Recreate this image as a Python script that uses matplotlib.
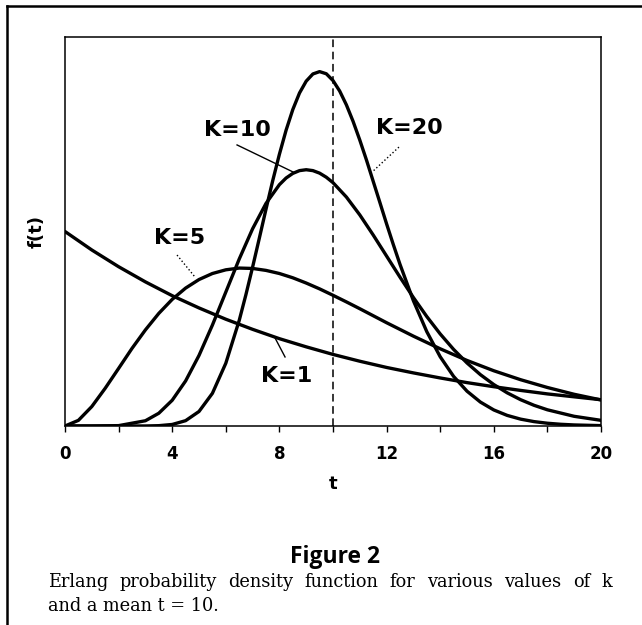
import matplotlib
matplotlib.use("Agg")
import matplotlib.pyplot as plt
from matplotlib.lines import Line2D

# values
t_k1 = [0, 1, 2, 3, 4, 5, 6, 7, 8, 9, 10, 11, 12, 13, 14, 15, 16, 17, 18, 19, 20]
f_k1 = [0.1000, 0.0905, 0.0819, 0.0741, 0.0670, 0.0607, 0.0549, 0.0497, 0.0449, 0.0407,
        0.0368, 0.0333, 0.0301, 0.0273, 0.0247, 0.0223, 0.0202, 0.0183, 0.0165, 0.0150, 0.0135]

t_k5 = [0, 0.5, 1, 1.5, 2, 2.5, 3, 3.5, 4, 4.5, 5, 5.5, 6, 6.5, 7, 7.5, 8, 8.5, 9, 9.5,
        10, 10.5, 11, 11.5, 12, 13, 14, 15, 16, 17, 18, 19, 20]
f_k5 = [0.0, 0.0029, 0.0100, 0.0194, 0.0296, 0.0399, 0.0494, 0.0579, 0.0651, 0.0709,
        0.0753, 0.0784, 0.0803, 0.0812, 0.0810, 0.0800, 0.0784, 0.0762, 0.0735, 0.0705,
        0.0672, 0.0638, 0.0603, 0.0567, 0.0531, 0.0462, 0.0397, 0.0337, 0.0284, 0.0238,
        0.0198, 0.0163, 0.0134]

t_k10 = [0, 1, 2, 3, 3.5, 4, 4.5, 5, 5.5, 6, 6.5, 7, 7.5, 8, 8.25, 8.5, 8.75, 9, 9.25,
         9.5, 9.75, 10, 10.5, 11, 11.5, 12, 12.5, 13, 13.5, 14, 14.5, 15, 15.5, 16, 16.5,
         17, 17.5, 18, 19, 20]
f_k10 = [0.0, 0.0, 0.00019, 0.00270, 0.00656, 0.01323, 0.02316, 0.03627, 0.05187, 0.06884,
         0.08581, 0.10140, 0.11444, 0.12408, 0.1275, 0.12987, 0.1313, 0.13176, 0.1313,
         0.13000, 0.1279, 0.12511, 0.11772, 0.10853, 0.09820, 0.08736, 0.07652, 0.06605,
         0.05627, 0.04734, 0.03938, 0.03241, 0.02640, 0.02131, 0.01705, 0.01353, 0.01065,
         0.00833, 0.00498, 0.00291]

t_k20 = [0, 1, 2, 3, 3.5, 4, 4.5, 5, 5.5, 6, 6.5, 6.75, 7, 7.25, 7.5, 7.75, 8, 8.25, 8.5,
         8.75, 9, 9.25, 9.5, 9.75, 10, 10.25, 10.5, 10.75, 11, 11.25, 11.5, 11.75, 12,
         12.25, 12.5, 13, 13.5, 14, 14.5, 15, 15.5, 16, 16.5, 17, 17.5, 18, 18.5, 19, 20]
f_k20 = [0.0, 0.0, 0.0, 0.00002, 0.00017, 0.00079, 0.00274, 0.00746, 0.01680, 0.03226,
         0.05425, 0.0675, 0.08169, 0.0965, 0.1115, 0.1261, 0.1397, 0.1521, 0.1627, 0.1712,
         0.1773, 0.1810, 0.1822, 0.1811, 0.1776, 0.1722, 0.1651, 0.1566, 0.1470, 0.1367,
         0.1258, 0.1149, 0.1039, 0.0933, 0.0831, 0.0644, 0.0485, 0.0356, 0.0255, 0.0179,
         0.0123, 0.00825, 0.00545, 0.00353, 0.00226, 0.00142, 0.00088, 0.00054, 0.00019]

mean_t = 10
x_ticks = [0, 4, 8, 12, 16, 20]
x_minor = [2, 6, 10, 14, 18]

# label text, text position, leader start, leader end, leader style
labels = [
    ("K=10", (6.42, 0.152), (6.42, 0.1445), (8.51, 0.1306), "-"),
    ("K=5", (4.29, 0.0967), (4.18, 0.0879), (4.85, 0.0766), ":"),
    ("K=20", (12.85, 0.1532), (12.46, 0.1434), (11.46, 0.1306), ":"),
    ("K=1", (8.28, 0.0257), (7.84, 0.0452), (8.21, 0.0355), "-"),
]

caption_title = "Figure 2"
caption_line1 = "Erlang probability density function for various values of k"
caption_line2 = "and a mean t = 10."

plt.rcParams['font.family'] = ['DejaVu Sans']

W, H = 642, 625
fig = plt.figure(figsize=(W / 100, H / 100), dpi=100)
ax = fig.add_axes([65 / W, 1 - 426 / H, 536 / W, 389 / H])

for t, f in [(t_k1, f_k1), (t_k5, f_k5), (t_k10, f_k10), (t_k20, f_k20)]:
    ax.plot(t, f, color="black", lw=2.4, solid_joinstyle="round", solid_capstyle="round")

ax.axvline(mean_t, color="black", lw=1.1, ls=(0, (5, 3)))

for txt, pos, p0, p1, ls in labels:
    ax.text(pos[0], pos[1], txt, ha="center", va="center", fontsize=16, fontweight="bold")
    ax.plot([p0[0], p1[0]], [p0[1], p1[1]], color="black", lw=1.0, ls=ls)

ax.set_xlim(0, 20)
ax.set_ylim(0, 0.2)
ax.set_xticks(x_ticks)
ax.set_xticks(x_minor, minor=True)
ax.set_xticklabels([str(v) for v in x_ticks], fontsize=12, fontweight="bold")
ax.set_yticks([])
ax.tick_params(axis="x", which="both", direction="out", length=4, width=1, pad=10)
for s in ax.spines.values():
    s.set_linewidth(1.1)

ax.set_xlabel("t", fontsize=13, fontweight="bold", labelpad=8)
ax.set_ylabel("f(t)", fontsize=13, fontweight="bold", labelpad=14)

# caption
fig.text(335 / W, 1 - 557 / H, caption_title, ha="center", va="center", fontsize=16.5,
         fontweight="bold", family="Open Sans")

# first caption line is justified between the two margins
cap_size = 12.8
left_px, right_px = 48, 612
fig.canvas.draw()
renderer = fig.canvas.get_renderer()
words = caption_line1.split()
widths = []
for w in words:
    tx = fig.text(0, 0, w, fontsize=cap_size, family="DejaVu Serif")
    widths.append(tx.get_window_extent(renderer).width)
    tx.remove()
gap = (right_px - left_px - sum(widths)) / (len(words) - 1)
x = left_px
for w, wd in zip(words, widths):
    fig.text(x / W, 1 - 582 / H, w, ha="left", va="center", fontsize=cap_size,
             family="DejaVu Serif")
    x += wd + gap
fig.text(left_px / W, 1 - 606 / H, caption_line2, ha="left", va="center", fontsize=cap_size,
         family="DejaVu Serif")

# page frame
fig.add_artist(Line2D([7 / W, 1], [1 - 6 / H, 1 - 6 / H], color="black", lw=1.8))
fig.add_artist(Line2D([7 / W, 7 / W], [0, 1 - 6 / H], color="black", lw=1.8))

fig.savefig("out.png", dpi=100)
